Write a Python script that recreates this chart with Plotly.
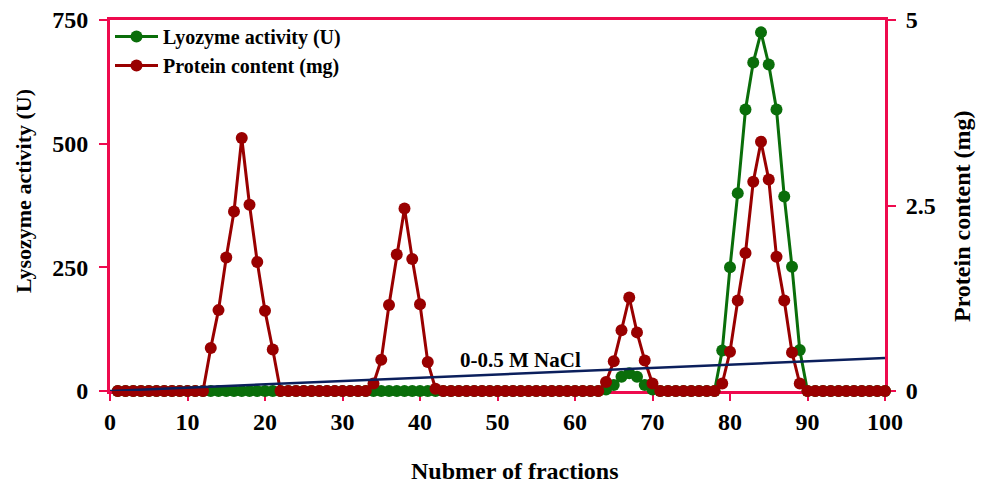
import plotly.graph_objects as go

fractions = list(range(1, 101))

# Lysozyme activity (U), fractions 1..100
lysozyme_u = [
    0, 0, 0, 0, 0, 0, 0, 0, 0, 0,          # 1-10
    0, 0, 0, 0, 0, 0, 0, 0, 0, 0,          # 11-20
    0, 0, 0, 0, 0, 0, 0, 0, 0, 0,          # 21-30
    0, 0, 0, 0, 0, 0, 0, 0, 0, 0,          # 31-40
    0, 0, 0, 0, 0, 0, 0, 0, 0, 0,          # 41-50
    0, 0, 0, 0, 0, 0, 0, 0, 0, 0,          # 51-60
    0, 0, 0, 3, 12, 29, 36, 29, 12, 3,     # 61-70
    0, 0, 0, 0, 0, 0, 0, 0, 82, 250,       # 71-80
    400, 569, 664, 725, 660, 569, 393, 251, 83, 0,  # 81-90
    0, 0, 0, 0, 0, 0, 0, 0, 0, 0,          # 91-100
]

# Protein content (mg), fractions 1..100
protein_mg = [
    0, 0, 0, 0, 0, 0, 0, 0, 0, 0,                      # 1-10
    0, 0, 0.58, 1.09, 1.80, 2.42, 3.41, 2.51, 1.74, 1.08,  # 11-20
    0.56, 0, 0, 0, 0, 0, 0, 0, 0, 0,                   # 21-30
    0, 0, 0, 0.10, 0.42, 1.16, 1.84, 2.46, 1.78, 1.17,  # 31-40
    0.39, 0.03, 0, 0, 0, 0, 0, 0, 0, 0,                # 41-50
    0, 0, 0, 0, 0, 0, 0, 0, 0, 0,                      # 51-60
    0, 0, 0, 0.12, 0.40, 0.82, 1.26, 0.79, 0.41, 0.10,  # 61-70
    0, 0, 0, 0, 0, 0, 0, 0, 0.10, 0.53,                # 71-80
    1.22, 1.86, 2.82, 3.36, 2.85, 1.81, 1.22, 0.52, 0.10, 0,  # 81-90
    0, 0, 0, 0, 0, 0, 0, 0, 0, 0,                      # 91-100
]

# NaCl gradient (M)
nacl_fraction = [0, 100]
nacl_conc = [0, 0.5]

x_ticks = [0, 10, 20, 30, 40, 50, 60, 70, 80, 90, 100]
y1_ticks = [0, 250, 500, 750]
y2_ticks = [0, 2.5, 5]
y2_ticklabels = ["0", "2.5", "5"]

FONT = "Liberation Serif"
FRAME = "#EE0A4E"
GREEN = "#0A6E0A"
RED = "#990000"
NAVY = "#0B1F5C"

fig = go.Figure()

fig.add_trace(go.Scatter(
    x=fractions, y=lysozyme_u, name="Lyozyme activity (U)",
    mode="lines+markers", yaxis="y",
    line=dict(color=GREEN, width=3), marker=dict(color=GREEN, size=12),
    cliponaxis=False,
))
fig.add_trace(go.Scatter(
    x=fractions, y=protein_mg, name="Protein content (mg)",
    mode="lines+markers", yaxis="y2",
    line=dict(color=RED, width=3), marker=dict(color=RED, size=12),
    cliponaxis=False,
))
fig.add_trace(go.Scatter(
    x=nacl_fraction, y=nacl_conc, name="NaCl", mode="lines", yaxis="y3",
    line=dict(color=NAVY, width=2.5), showlegend=False, cliponaxis=False,
))

tickfont = dict(family=FONT, size=24, color="black", weight="bold")

fig.update_layout(
    width=979, height=472,
    margin=dict(l=102, r=102, t=12, b=89, autoexpand=False),
    paper_bgcolor="white", plot_bgcolor="white",
    showlegend=True,
    legend=dict(x=0.0, y=1.008, xanchor="left", yanchor="top",
                bgcolor="rgba(0,0,0,0)", itemwidth=43,
                font=dict(family=FONT, size=20, color="black", weight="bold"),
                tracegroupgap=0),
    xaxis=dict(range=[0, 100], tickvals=x_ticks, showgrid=False, zeroline=False,
               showline=True, linecolor=FRAME, linewidth=3, mirror=True,
               ticks="outside", ticklen=7, tickwidth=2, tickcolor=FRAME,
               tickfont=tickfont, ticklabelstandoff=0, layer="below traces",
               automargin=False, ticklabeloverflow="allow"),
    yaxis=dict(range=[0, 750], tickvals=y1_ticks, showgrid=False, zeroline=False,
               showline=True, linecolor=FRAME, linewidth=3,
               ticks="outside", ticklen=8, tickwidth=2, tickcolor=FRAME,
               tickfont=tickfont, ticklabelstandoff=6, layer="below traces",
               automargin=False, ticklabeloverflow="allow"),
    yaxis2=dict(range=[0, 5], tickvals=y2_ticks, ticktext=y2_ticklabels,
                overlaying="y", side="right", showgrid=False, zeroline=False,
                showline=True, linecolor=FRAME, linewidth=3,
                ticks="outside", ticklen=8, tickwidth=2, tickcolor=FRAME,
                tickfont=tickfont, ticklabelstandoff=5, layer="below traces",
                automargin=False, ticklabeloverflow="allow"),
    yaxis3=dict(range=[0, 5.62], overlaying="y", visible=False),
)

fig.add_annotation(x=53, y=0.5, xref="x", yref="y3", text="0-0.5 M NaCl",
                   showarrow=False, yanchor="middle", yshift=-2,
                   font=dict(family=FONT, size=21, color="black", weight="bold"))

fig.add_annotation(x=-0.1123, y=0.539, xref="paper", yref="paper",
                   text="Lysozyme activity (U)", textangle=-90, showarrow=False,
                   xanchor="center", yanchor="middle",
                   font=dict(family=FONT, size=22, color="black", weight="bold"))
fig.add_annotation(x=1.0994, y=0.4717, xref="paper", yref="paper",
                   text="Protein content (mg)", textangle=-90, showarrow=False,
                   xanchor="center", yanchor="middle",
                   font=dict(family=FONT, size=24, color="black", weight="bold"))
fig.add_annotation(x=0.522, y=-0.175, xref="paper", yref="paper",
                   text="Nubmer of fractions", showarrow=False,
                   xanchor="center", yanchor="top",
                   font=dict(family=FONT, size=24, color="black", weight="bold"))

fig.write_html("out.html")
